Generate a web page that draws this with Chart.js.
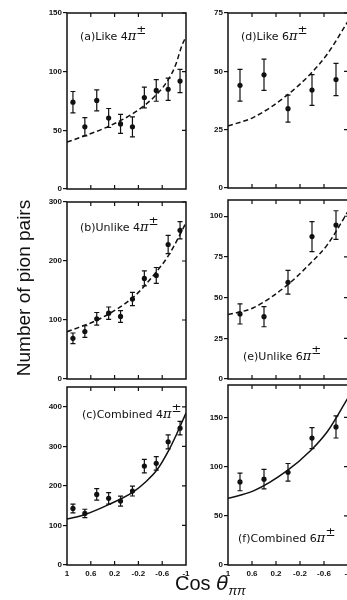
<!DOCTYPE html>
<html><head><meta charset="utf-8">
<script src="https://cdn.jsdelivr.net/npm/chart.js@4.4.0/dist/chart.umd.min.js"></script>
<style>
html,body{margin:0;padding:0;background:#fff;width:347px;height:600px;overflow:hidden;position:relative;}
canvas{position:absolute;}
.lbl{position:absolute;font-family:"DejaVu Sans",sans-serif;font-size:11px;line-height:11px;color:#111;white-space:nowrap;}
.lbl i{font-family:"DejaVu Serif",serif;font-style:italic;font-size:13px;}
.lbl sup{font-size:12px;vertical-align:6px;line-height:0;}
#ytitle{position:absolute;left:-76px;top:277px;width:200px;text-align:center;font-family:"Liberation Sans",sans-serif;font-size:19px;line-height:22px;color:#111;transform:rotate(-90deg);white-space:nowrap;}
#xtitle{position:absolute;left:175px;top:572px;font-family:"Liberation Sans",sans-serif;font-size:20px;line-height:22px;color:#111;white-space:nowrap;}
#xtitle i{font-family:"DejaVu Sans",sans-serif;font-style:italic;}
#xtitle sub{font-size:13px;font-style:italic;vertical-align:-5px;line-height:0;}
</style></head><body>
<canvas id="pa" width="174" height="206" style="left:22px;top:5px"></canvas>
<canvas id="pd" width="175" height="205" style="left:183px;top:5px"></canvas>
<canvas id="pb" width="174" height="207" style="left:22px;top:194px"></canvas>
<canvas id="pe" width="175" height="209" style="left:183px;top:192px"></canvas>
<canvas id="pc" width="174" height="208" style="left:22px;top:379px"></canvas>
<canvas id="pf" width="175" height="210" style="left:183px;top:377px"></canvas>
<div class="lbl" style="left:80px;top:30px">(a)Like 4<i>π</i><sup>±</sup></div>
<div class="lbl" style="left:241px;top:30px">(d)Like 6<i>π</i><sup>±</sup></div>
<div class="lbl" style="left:80px;top:221px">(b)Unlike 4<i>π</i><sup>±</sup></div>
<div class="lbl" style="left:243px;top:350px">(e)Unlike 6<i>π</i><sup>±</sup></div>
<div class="lbl" style="left:82px;top:408px">(c)Combined 4<i>π</i><sup>±</sup></div>
<div class="lbl" style="left:238px;top:532px">(f)Combined 6<i>π</i><sup>±</sup></div>
<div id="ytitle">Number of pion pairs</div>
<div id="xtitle">Cos <i>θ</i><sub>ππ</sub></div>
<script>
// ---- data ----
const cosTicks = [1, 0.6, 0.2, -0.2, -0.6, -1];
const cosTickLabels = ['1', '0.6', '0.2', '-0.2', '-0.6', '-1'];
const innerCosTicks = [0.6, 0.2, -0.2, -0.6];
const cosBins10 = [0.9, 0.7, 0.5, 0.3, 0.1, -0.1, -0.3, -0.5, -0.7, -0.9];
const cosBins5 = [0.8, 0.4, 0, -0.4, -0.8];

const likeFourCounts = [74, 53, 75.5, 60.5, 55.5, 53, 78, 84, 85, 92];
const likeFourErrors = [9.1, 7.8, 8.9, 8.1, 8.1, 8.5, 8.9, 9.2, 9.5, 9.9];
const likeFourFitCos = [1, 0.72, 0.32, -0.13, -0.475, -0.7, -0.82, -0.93, -1];
const likeFourFit = [40, 45, 53, 65, 79, 93, 105, 122, 130];
const likeFourYTicks = [0, 50, 100, 150];

const unlikeFourCounts = [69, 80.5, 102, 111.5, 106, 135.5, 170.5, 175.5, 228, 252];
const unlikeFourErrors = [9, 10, 10.7, 10.5, 10, 11.3, 12.7, 13.5, 15.5, 14.6];
const unlikeFourFitCos = [1, 0.43, -0.14, -0.48, -0.71, -0.88, -1];
const unlikeFourFit = [80, 103, 141, 179, 210, 241, 265];
const unlikeFourYTicks = [0, 100, 200, 300];

const combinedFourCounts = [143, 130.5, 178.5, 168.5, 161.5, 187, 250, 257, 311.5, 346];
const combinedFourErrors = [11, 10.5, 14.7, 14.7, 12.6, 12.6, 17, 17, 17.7, 17];
const combinedFourFitCos = [1, 0.71, 0.31, -0.115, -0.32, -0.51, -0.71, -0.84, -1];
const combinedFourFit = [116, 127, 152, 185, 210, 240, 290, 330, 384];
const combinedFourYTicks = [0, 100, 200, 300, 400];

const likeSixCounts = [44, 48.5, 34, 42, 46.5];
const likeSixErrors = [6.8, 6.7, 5.8, 6.6, 6.9];
const likeSixFitCos = [1, 0.575, 0.014, -0.378, -0.66, -1];
const likeSixFit = [26.6, 30.3, 39.8, 49, 57.6, 71.5];
const likeSixYTicks = [0, 25, 50, 75];

const unlikeSixCounts = [40, 38.3, 59.4, 87.5, 94.6];
const unlikeSixErrors = [6.2, 6.2, 7.3, 9.2, 8.8];
const unlikeSixFitCos = [1, 0.575, 0.014, -0.378, -0.66, -1];
const unlikeSixFit = [39.6, 43.8, 57.7, 71.3, 82.7, 103];
const unlikeSixYTicks = [0, 25, 50, 75, 100];

const combinedSixCounts = [84.5, 87.3, 94.2, 129, 140.4];
const combinedSixErrors = [9, 10, 9, 10.6, 11.3];
const combinedSixFitCos = [1, 0.575, 0.014, -0.378, -0.66, -1];
const combinedSixFit = [67.8, 75.3, 95.9, 116.4, 136, 170];
const combinedSixYTicks = [0, 50, 100, 150];

// ---- drawing ----
const INK = '#111';
const tickFont = {family: '"Liberation Sans", sans-serif', size: 8, weight: 'bold'};

const framePlugin = {
  id: 'frame',
  afterDatasetsDraw(chart, args, opts) {
    const {ctx, chartArea: a, scales: {x, y}} = chart;
    ctx.save();
    // error bars
    const ds = chart.data.datasets[0];
    ctx.strokeStyle = INK; ctx.lineWidth = 1.2;
    ds.data.forEach((p, i) => {
      const e = opts.errors[i];
      const px = x.getPixelForValue(p.x);
      const top = y.getPixelForValue(p.y + e), bot = y.getPixelForValue(p.y - e);
      ctx.beginPath();
      ctx.moveTo(px, top); ctx.lineTo(px, bot);
      ctx.moveTo(px - 2.5, top); ctx.lineTo(px + 2.5, top);
      ctx.moveTo(px - 2.5, bot); ctx.lineTo(px + 2.5, bot);
      ctx.stroke();
    });
    // frame
    ctx.lineWidth = 1.5;
    ctx.strokeRect(a.left, a.top, a.right - a.left, a.bottom - a.top);
    ctx.lineWidth = 1.2;
    ctx.beginPath();
    innerCosTicks.forEach(v => {
      const px = x.getPixelForValue(v);
      ctx.moveTo(px, a.top); ctx.lineTo(px, a.top + 4);
      ctx.moveTo(px, a.bottom); ctx.lineTo(px, a.bottom - 4);
    });
    opts.yTicks.forEach(v => {
      if (v === 0) return;
      const py = y.getPixelForValue(v);
      ctx.moveTo(a.right, py); ctx.lineTo(a.right - 4, py);
    });
    ctx.stroke();
    ctx.restore();
  }
};

function makePanel(id, bins, counts, errors, fitCos, fit, yTicks, yMax, dashed, showX) {
  new Chart(document.getElementById(id), {
    type: 'scatter',
    data: {
      datasets: [
        {data: bins.map((c, i) => ({x: c, y: counts[i]})), pointRadius: 2.6, pointBackgroundColor: INK,
         pointBorderWidth: 0, showLine: false},
        {type: 'line', data: fitCos.map((c, i) => ({x: c, y: fit[i]})), borderColor: INK, borderWidth: 1.5,
         borderDash: dashed ? [5, 3] : [], pointRadius: 0, cubicInterpolationMode: 'monotone', fill: false}
      ]
    },
    options: {
      responsive: false, animation: false, devicePixelRatio: 1,
      layout: {padding: {top: 8, right: 10, left: 0, bottom: 0}},
      plugins: {legend: {display: false}, tooltip: {enabled: false},
                frame: {errors: errors, yTicks: yTicks}},
      scales: {
        x: {type: 'linear', min: -1, max: 1, reverse: true,
            afterBuildTicks: s => { s.ticks = cosTicks.map(v => ({value: v})); },
            afterFit: s => { s.height = 22; },
            border: {display: false},
            grid: {display: false, drawTicks: false},
            ticks: {display: showX, padding: 4, font: tickFont, color: INK, maxRotation: 0, autoSkip: false,
                    callback: (v, i) => cosTickLabels[i]}},
        y: {min: 0, max: yMax,
            afterBuildTicks: s => { s.ticks = yTicks.map(v => ({value: v})); },
            afterFit: s => { s.width = 45; },
            border: {display: false},
            grid: {drawOnChartArea: false, drawTicks: true, tickLength: 4, color: INK, lineWidth: 1.2},
            ticks: {padding: 1, font: tickFont, color: INK}}
      }
    },
    plugins: [framePlugin]
  });
}

makePanel('pa', cosBins10, likeFourCounts, likeFourErrors, likeFourFitCos, likeFourFit, likeFourYTicks, 150, true, false);
makePanel('pb', cosBins10, unlikeFourCounts, unlikeFourErrors, unlikeFourFitCos, unlikeFourFit, unlikeFourYTicks, 300, true, false);
makePanel('pc', cosBins10, combinedFourCounts, combinedFourErrors, combinedFourFitCos, combinedFourFit, combinedFourYTicks, 450, false, true);
makePanel('pd', cosBins5, likeSixCounts, likeSixErrors, likeSixFitCos, likeSixFit, likeSixYTicks, 75, true, false);
makePanel('pe', cosBins5, unlikeSixCounts, unlikeSixErrors, unlikeSixFitCos, unlikeSixFit, unlikeSixYTicks, 110, true, false);
makePanel('pf', cosBins5, combinedSixCounts, combinedSixErrors, combinedSixFitCos, combinedSixFit, combinedSixYTicks, 183, false, true);
</script>
</body></html>
